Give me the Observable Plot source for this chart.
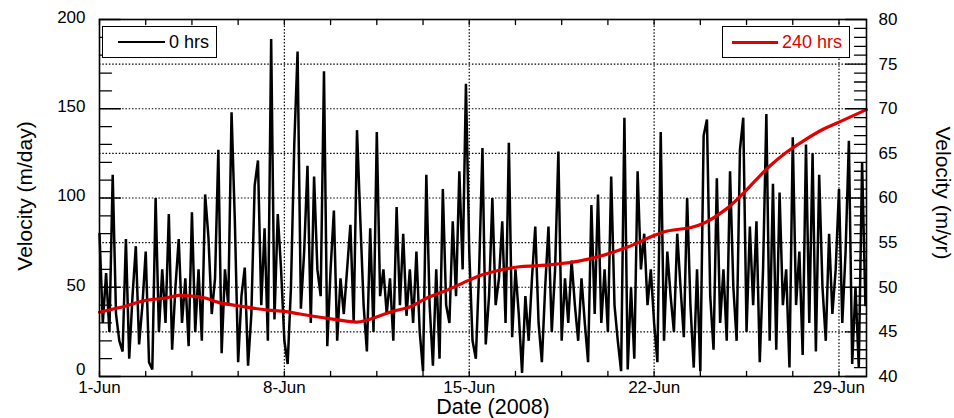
<!DOCTYPE html>
<html>
<head>
<meta charset="utf-8">
<script src="https://cdn.jsdelivr.net/npm/d3@7"></script>
<script src="https://cdn.jsdelivr.net/npm/@observablehq/plot@0.6"></script>
<style>
  body { margin: 0; background: #fff; }
  #wrap { position: relative; width: 954px; height: 418px; font-family: "Liberation Sans", Arial, sans-serif; overflow: hidden; }
  .legend { position: absolute; border: 1px solid #000; background: #fff; height: 32px; box-sizing: border-box; display: flex; align-items: center; font-size: 18px; }
  .legend .sw { display: inline-block; height: 0; margin-right: 4px; }
  .title { position: absolute; white-space: nowrap; font-size: 21px; line-height: 1; color: #000; }
</style>
</head>
<body>
<div id="wrap">
  <div id="chart"></div>
  <div class="legend" style="left:102px; top:26px; width:115px;">
    <span class="sw" style="width:47px; margin-left:15px; border-top:2.5px solid #000;"></span><span style="color:#000">0 hrs</span>
  </div>
  <div class="legend" style="left:722px; top:26px; width:128px;">
    <span class="sw" style="width:46px; margin-left:9px; border-top:3px solid #e00000;"></span><span style="color:#e00000">240 hrs</span>
  </div>
  <div class="title" style="left:24px; top:196px; transform: translate(-50%,-50%) rotate(-90deg);">Velocity (m/day)</div>
  <div class="title" style="left:943px; top:193px; transform: translate(-50%,-50%) rotate(90deg);">Velocity (m/yr)</div>
  <div class="title" style="left:493px; top:408px; transform: translate(-50%,-50%); font-size:21.5px;">Date (2008)</div>
</div>
<script>
// Raw 0-hr velocity (m/day), 3-hourly samples starting 1-Jun-2008 00:00 UTC
const rawVelocity = [
  80, 30, 58, 25, 113, 35, 20, 14,
  77, 10, 45, 73, 18, 40, 70, 8,
  4, 100, 25, 60, 30, 91, 15, 50,
  77, 30, 55, 17, 92, 25, 60, 20,
  102, 78, 35, 55, 127, 13, 60, 40,
  148, 87, 8, 45, 61, 6, 35, 107,
  121, 40, 83, 20, 189, 32, 91, 60,
  20, 7, 50, 130, 182, 38, 70, 118,
  30, 112, 60, 45, 171, 17, 60, 93,
  20, 55, 35, 60, 85, 30, 138, 88,
  40, 14, 83, 25, 137, 45, 60, 35,
  55, 20, 95, 40, 80, 34, 60, 30,
  70, 25, 3, 113, 40, 6, 60, 10,
  105, 40, 30, 87, 45, 115, 60, 164,
  70, 20, 10, 60, 128, 18, 45, 100,
  40, 55, 87, 30, 131, 22, 60, 35,
  2, 45, 20, 55, 84, 30, 8, 50,
  84, 25, 60, 126, 20, 55, 30, 65,
  40, 20, 55, 30, 8, 96, 35, 102,
  30, 60, 25, 112, 40, 20, 3, 145,
  4, 50, 10, 115, 60, 80, 40, 60,
  30, 8, 137, 20, 70, 45, 25, 80,
  50, 22, 100, 40, 5, 60, 3, 135,
  144, 45, 15, 111, 30, 60, 20, 115,
  50, 20, 127, 145, 25, 84, 40, 87,
  8, 60, 147, 20, 108, 15, 103, 40,
  60, 5, 134, 40, 70, 12, 130, 30,
  125, 14, 113, 50, 20, 80, 35, 60,
  105, 30, 70, 132, 7, 50, 5, 120,
  40
];
const rawStepHours = 3;

// 240-hr smoothed velocity (m/yr): day offsets from 1-Jun and values
const smoothDays = [0, 1, 1.7, 2.5, 3, 3.5, 4, 4.5, 5.5, 6.5, 7, 7.6, 8.9, 9.75, 10.1, 11.1, 11.75, 12.4, 13.1, 14, 14.5, 15.9, 16.5, 17.3, 18.1, 19.1, 20, 21, 21.5, 22.4, 22.9, 23.7, 24.2, 24.85, 25.35, 26, 26.6, 27.4, 28, 29.04];
const smoothVel  = [47.2, 47.9, 48.5, 48.8, 49.1, 49.0, 48.8, 48.3, 47.8, 47.4, 47.3, 47.0, 46.4, 46.1, 46.3, 47.3, 47.8, 48.8, 49.6, 50.8, 51.4, 52.3, 52.4, 52.6, 52.9, 53.6, 54.5, 55.8, 56.3, 56.7, 57.2, 58.7, 60.0, 62.0, 63.5, 65.1, 66.3, 67.7, 68.5, 69.9];

// Axis ticks
const leftLabels = [0, 50, 100, 150, 200];
const gridValues = [25, 50, 75, 100, 125, 150, 175];
const rightLabels = [40, 45, 50, 55, 60, 65, 70, 75, 80];
const dateLabels = ["2008-06-01", "2008-06-08", "2008-06-15", "2008-06-22", "2008-06-29"];

const t0 = Date.UTC(2008, 5, 1);
const H = 3600e3;
const rawData = rawVelocity.map((v, i) => ({date: new Date(t0 + i * rawStepHours * H), v}));
const smoothData = smoothDays.map((d, i) => ({date: new Date(t0 + d * 24 * H), v: (smoothVel[i] - 40) * 5}));
const dateTicks = dateLabels.map(s => new Date(s + "T00:00:00Z"));
const xDomain = [new Date(t0), new Date(t0 + (29 * 24 + 1) * H)];

const minorX = d3.range(0, 29.05, 1.75).map(d => new Date(t0 + d * 24 * H));
const minorYLeft = d3.range(0, 201, 10);
const minorYRight = d3.range(0, 201, 5);

const tickShape = {draw(ctx, l) { ctx.moveTo(0, 0); ctx.lineTo(0, -l); }};
const tk = (opts) => ({shape: tickShape, anchor: "start", stroke: "black", strokeWidth: 1.3, ...opts});

const chart = Plot.plot({
  width: 954,
  height: 418,
  marginLeft: 99,
  marginRight: 88,
  marginTop: 19,
  marginBottom: 42,
  style: {fontFamily: "'Liberation Sans', Arial, sans-serif", fontSize: "17px", color: "black", background: "white", overflow: "visible"},
  x: {type: "utc", domain: xDomain},
  y: {domain: [0, 200]},
  marks: [
    Plot.gridY(gridValues, {stroke: "black", strokeOpacity: 1, strokeWidth: 1.2, strokeDasharray: "1.5,1.8"}),
    Plot.gridX(dateTicks.slice(1), {stroke: "black", strokeOpacity: 1, strokeWidth: 1.2, strokeDasharray: "1.5,1.8"}),
    Plot.line(rawData, {x: "date", y: "v", stroke: "black", strokeWidth: 2.5, strokeLinejoin: "miter", strokeMiterlimit: 3}),
    Plot.line(smoothData, {x: "date", y: "v", stroke: "#e00000", strokeWidth: 3.2, curve: "catmull-rom"}),
    Plot.frame({stroke: "black", strokeWidth: 1.6}),
    // inward ticks
    Plot.vector(minorYLeft, tk({y: d => d, frameAnchor: "left", rotate: 90, length: d => d % 50 === 0 ? 7 : 4})),
    Plot.vector(minorYRight, tk({y: d => d, frameAnchor: "right", rotate: -90, length: d => d % 25 === 0 ? 7 : 4})),
    Plot.vector(minorX, tk({x: d => d, frameAnchor: "bottom", rotate: 0, length: 5})),
    Plot.vector(minorX, tk({x: d => d, frameAnchor: "top", rotate: 180, length: 5})),
    // tick labels
    Plot.axisY(leftLabels.slice(1), {anchor: "left", tickSize: 0, tickPadding: 14, label: null, dy: -2}),
    Plot.axisY(leftLabels.slice(0, 1), {anchor: "left", tickSize: 0, tickPadding: 14, label: null, dy: -7}),
    Plot.axisY(rightLabels.map(v => (v - 40) * 5), {anchor: "right", tickSize: 0, tickPadding: 12, label: null, tickFormat: d => String(40 + d / 5)}),
    Plot.axisX(dateTicks, {anchor: "bottom", tickSize: 0, tickPadding: 4, label: null, tickFormat: d => `${d.getUTCDate()}-Jun`})
  ]
});
document.getElementById("chart").appendChild(chart);
</script>
</body>
</html>
